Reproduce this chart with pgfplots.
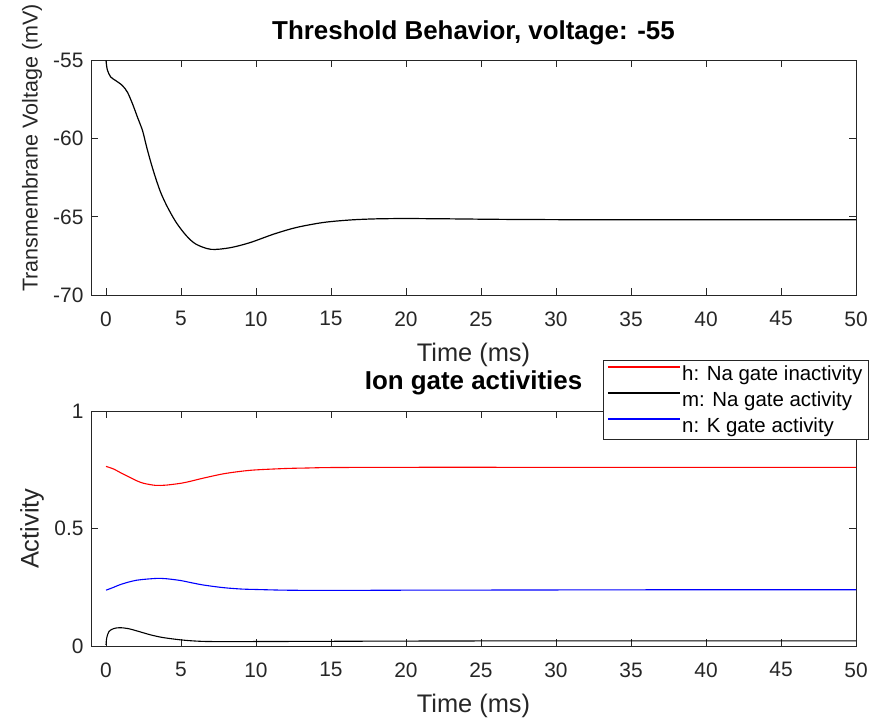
\documentclass[border=0pt]{standalone}
\usepackage{pgfplots}
\pgfplotsset{compat=1.18}
\usepackage{fontspec}
\setmainfont{Liberation Sans}
\definecolor{axgray}{gray}{0.15}
\definecolor{mred}{rgb}{1,0,0}
\definecolor{mblue}{rgb}{0,0,1}
\begin{document}
\begin{tikzpicture}
\pgfplotsset{
  mstyle/.style={
    scale only axis, width=765bp, height=234.5bp,
    xmin=-1, xmax=50,
    axis line style={axgray, line width=0.8bp},
    tick style={axgray, line width=0.8bp},
    tick align=inside, xtick pos=both, ytick pos=both,
    major tick length=7bp,
    xtick={0,5,10,15,20,25,30,35,40,45,50},
    xticklabels={0,5,10,15,20,25,30,35,40,45,50},
    ticklabel style={font=\fontsize{21}{25}\selectfont, text=axgray},
    xticklabel style={yshift=-13bp},
    yticklabel style={xshift=-4bp},
    label style={font=\fontsize{25.5}{30}\selectfont, text=axgray},
    title style={font=\fontsize{26}{30}\selectfont\bfseries, text=black},
    xlabel style={at={(rel axis cs:0.5,-0.255)}, anchor=center},
    /pgf/number format/assume math mode=true,
  }
}
% top axis
\begin{axis}[mstyle, at={(91bp,430bp)}, anchor=south west,
  ymin=-70, ymax=-55,
  ytick={-70,-65,-60,-55}, yticklabels={-70,-65,-60,-55},
  title={Threshold Behavior, voltage: -55},
  title style={at={(rel axis cs:0.5,1.094)}, anchor=center},
  xlabel={Time (ms)},
  ylabel={Transmembrane Voltage (mV)},
  ylabel style={at={(rel axis cs:-0.0771,0.627)}, anchor=center, font=\fontsize{21.6}{26}\selectfont},
]
\addplot[black, line width=1.2bp, smooth] coordinates {
(0,-55.0) (0.09,-55.6) (0.31,-56.05) (0.64,-56.28) (1.09,-56.6) (1.43,-57.03)
(1.77,-57.78) (2.1,-58.63) (2.44,-59.5) (2.7,-60.5) (3.0,-61.55) (3.33,-62.58)
(3.67,-63.5) (4.11,-64.4) (4.68,-65.36) (5.35,-66.2) (6.0,-66.75) (7.0,-67.08)
(8.25,-66.98) (9.6,-66.65) (11.2,-66.1) (12.7,-65.68) (14.5,-65.36) (16.3,-65.2)
(18,-65.13) (20,-65.11) (23,-65.13) (26,-65.16) (30,-65.18) (35,-65.19) (40,-65.19) (45,-65.19) (50,-65.19)
};
\end{axis}
% bottom axis
\begin{axis}[mstyle, at={(91bp,79bp)}, anchor=south west,
  ymin=0, ymax=1,
  ytick={0,0.5,1}, yticklabels={0,0.5,1},
  title={Ion gate activities},
  title style={at={(rel axis cs:0.5,1.098)}, anchor=center},
  xlabel={Time (ms)},
  ylabel={Activity},
  ylabel style={at={(rel axis cs:-0.0771,0.5)}, anchor=center},
  legend style={at={(rel axis cs:1.0157,1.221)}, anchor=north east,
    font=\fontsize{20.5}{24}\selectfont, draw=gray!30!black,
    fill=white, inner xsep=4bp, inner ysep=4bp, row sep=6.7bp,
    nodes={inner sep=1.5bp}},
  legend cell align=left,
]
\addplot[color=mred, line width=1.1bp, smooth,
  legend image code/.code={\draw[mred, line width=1.4bp] (0bp,6.5bp) -- (72bp,6.5bp);}] coordinates {
(0,0.766) (0.5,0.755) (1,0.738) (1.5,0.722) (2,0.706) (2.5,0.694) (3.3,0.685)
(4,0.686) (5,0.694) (5.6,0.702) (6.5,0.716) (7.8,0.734) (9,0.745) (10,0.751)
(12,0.757) (13.4,0.759) (15,0.761) (20,0.762) (30,0.762) (40,0.762) (50,0.762)
};
\addlegendentry{h: Na gate inactivity}
\addplot[color=black, line width=1.1bp, smooth,
  legend image code/.code={\draw[black, line width=1.4bp] (0bp,6.5bp) -- (72bp,6.5bp);}] coordinates {
(0,0.005) (0.05,0.035) (0.2,0.062) (0.5,0.074) (0.9,0.078) (1.5,0.074)
(2.4,0.058) (3,0.047) (3.8,0.036) (5,0.026) (6,0.021) (7,0.019) (10,0.019)
(15,0.02) (20,0.021) (30,0.022) (40,0.022) (50,0.022)
};
\addlegendentry{m: Na gate activity}
\addplot[color=mblue, line width=1.1bp, smooth,
  legend image code/.code={\draw[mblue, line width=1.4bp] (0bp,6.5bp) -- (72bp,6.5bp);}] coordinates {
(0,0.238) (0.5,0.25) (1,0.263) (2,0.28) (3.3,0.288) (4,0.287) (5,0.279)
(5.6,0.271) (6.5,0.26) (7.8,0.249) (9,0.243) (10,0.241) (12,0.238) (15,0.237)
(20,0.238) (30,0.239) (40,0.24) (50,0.24)
};
\addlegendentry{n: K gate activity}
\end{axis}
\path[use as bounding box] (0,0) rectangle (873bp,725bp);
\end{tikzpicture}
\end{document}
